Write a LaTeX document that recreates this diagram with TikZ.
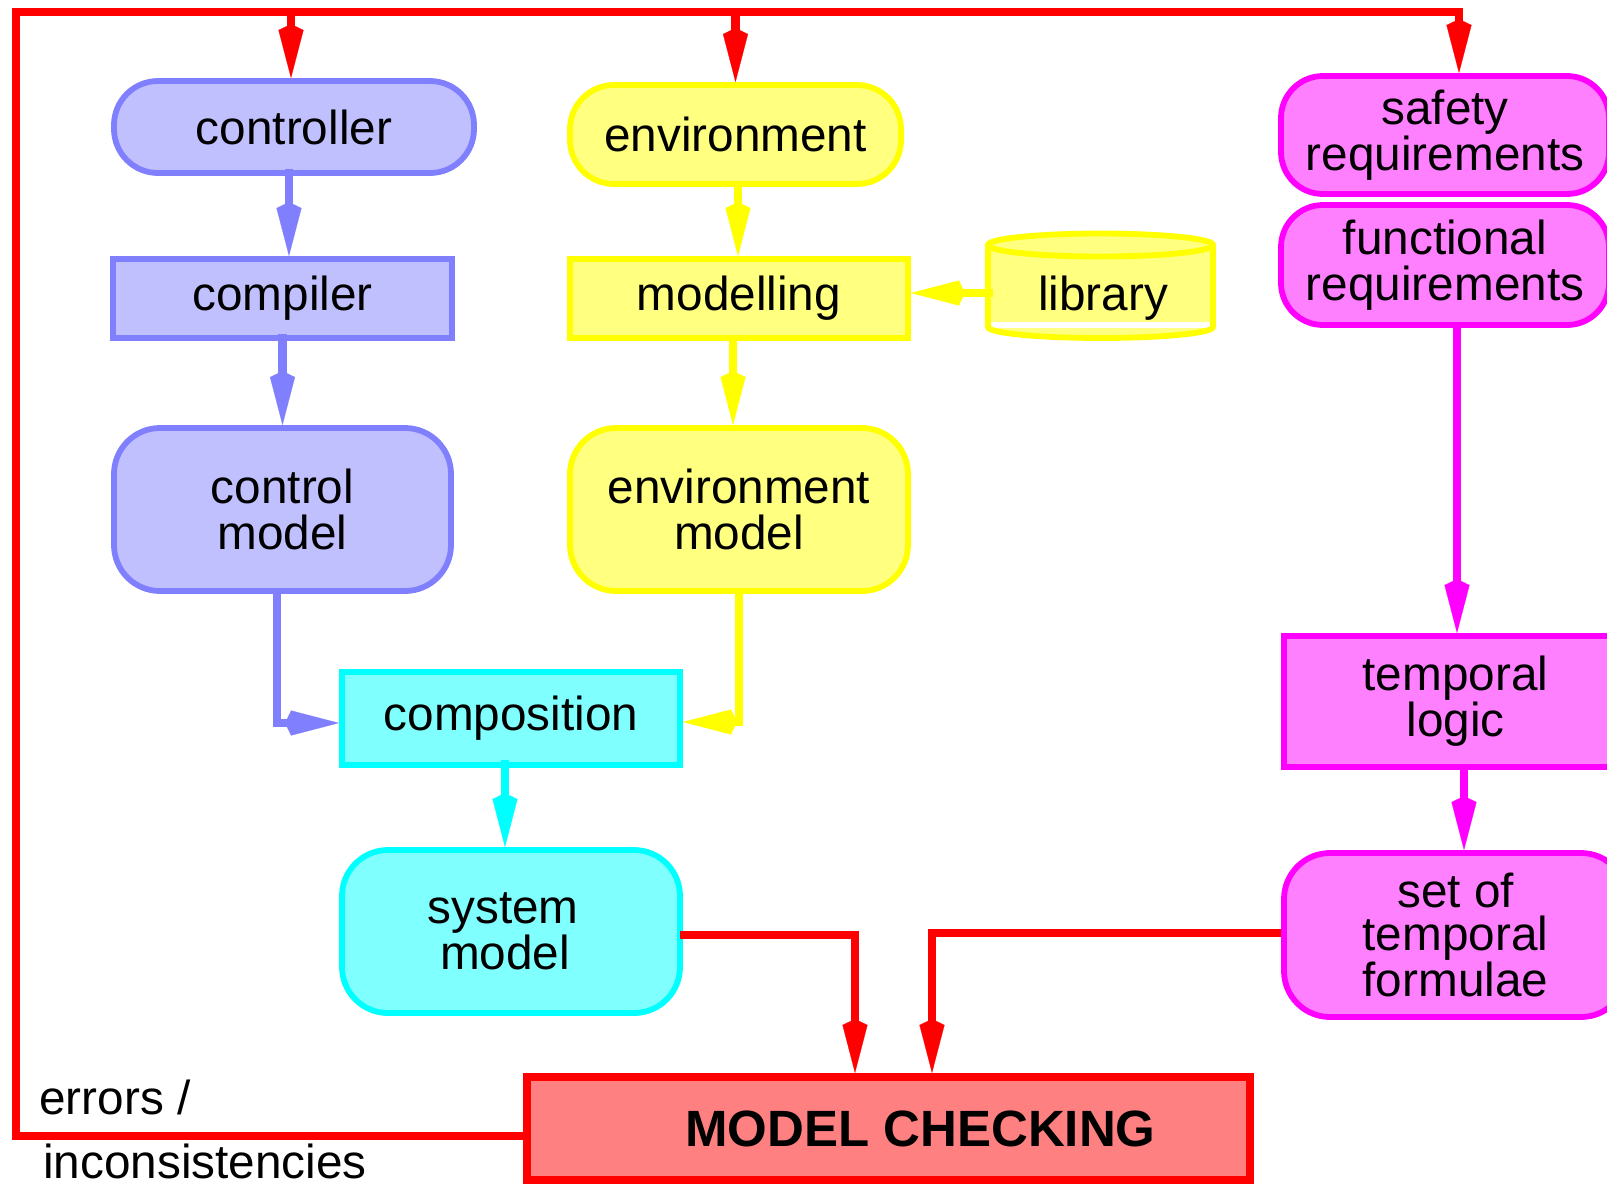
\documentclass[tikz,border=0pt]{standalone}
\usepackage{fontspec}
\setmainfont{Liberation Sans}
\usetikzlibrary{arrows.meta,calc}

\definecolor{bluebd}{HTML}{8080FF}
\definecolor{bluefl}{HTML}{C0C0FF}
\definecolor{yelbd}{HTML}{FFFF00}
\definecolor{yelfl}{HTML}{FFFF80}
\definecolor{cyanbd}{HTML}{00FFFF}
\definecolor{cyanfl}{HTML}{80FFFF}
\definecolor{magbd}{HTML}{FF00FF}
\definecolor{magfl}{HTML}{FF80FF}
\definecolor{redbd}{HTML}{FF0000}
\definecolor{redfl}{HTML}{FF8080}

\begin{document}
\begin{tikzpicture}[x=0.5pt,y=-0.5pt,
  txt/.style={font=\fontsize{23.85pt}{23pt}\selectfont, align=center, inner sep=0pt},
  box/.style={txt, draw, line width=2.9pt, rectangle},
  rbox/.style={box, rounded corners=#1},
  blueN/.style={draw=bluebd, fill=bluefl},
  yelN/.style={draw=yelbd, fill=yelfl},
  cyanN/.style={draw=cyanbd, fill=cyanfl},
  magN/.style={draw=magbd, fill=magfl},
  arr/.style={line width=4.2pt, line join=miter,
    -{Kite[length=27pt,width=12.5pt,inset=3pt,line width=0.1pt]}},
  barr/.style={arr, color=bluebd},
  yarr/.style={arr, color=yelbd},
  carr/.style={arr, color=cyanbd},
  marr/.style={arr, color=magbd},
  rarr/.style={arr, color=redbd},
]
\useasboundingbox (0,0) rectangle (1607,1184);

% controller column
\node[rbox=22pt, blueN, minimum width=180pt, minimum height=46pt] (ctrl) at (294,127) {controller};
\node[box, blueN, minimum width=169.5pt, minimum height=39.5pt] (cmp) at (282.5,298.5) {compiler};
\node[rbox=23pt, blueN, minimum width=168.5pt, minimum height=81.5pt] (cm) at (282.5,509.5) {control\\model};

% environment column
\node[rbox=22pt, yelN, minimum width=165.5pt, minimum height=49.5pt] (env) at (735.5,134.5) {environment};
\node[box, yelN, minimum width=169pt, minimum height=39.5pt] (mod) at (739,298.5) {modelling};
\node[rbox=23pt, yelN, minimum width=169pt, minimum height=81.5pt] (em) at (739,509.5) {environment\\model};

% library cylinder
\fill[yelfl] (988,245) -- (988,327) arc[start angle=180,end angle=360,x radius=56.25pt,y radius=5.5pt] -- (1213,245) -- cycle;
\fill[white] (990,322) rectangle (1211,328);
\draw[yelbd, line width=2.9pt] (988,245) -- (988,327) arc[start angle=180,end angle=360,x radius=56.25pt,y radius=5.5pt] -- (1213,245);
\draw[yelbd, fill=yelfl, line width=2.9pt] (1100.5,245) ellipse[x radius=56.25pt, y radius=5.75pt];
\node[txt] (lib) at (1103,298) {library};
\coordinate (libL) at (993,293);

% composition and system model
\node[box, cyanN, minimum width=169pt, minimum height=46.5pt] (compo) at (511,718.5) {composition};
\node[rbox=23pt, cyanN, minimum width=169pt, minimum height=81.5pt] (sys) at (511,931.5) {\hspace*{-8pt}system\\\hspace*{-6pt}model};

% requirements column
\node[rbox=21pt, magN, minimum width=164pt, minimum height=59pt] (safe) at (1445,135) {safety\\requirements};
\node[rbox=21pt, magN, minimum width=164pt, minimum height=60pt] (func) at (1445,265) {functional\\requirements};
\node[box, magN, minimum width=171.5pt, minimum height=65.5pt] (tlog) at (1455.5,701.5) {temporal\\logic};
\node[rbox=23pt, magN, minimum width=171.5pt, minimum height=82pt,
      font=\fontsize{23.85pt}{21.5pt}\selectfont] (form) at (1455.5,935) {set of\\temporal\\formulae};

% model checking
\node[box, draw=redbd, fill=redfl, line width=4pt, minimum width=361.5pt, minimum height=51.5pt,
      font=\bfseries\fontsize{25.5pt}{26pt}\selectfont] (mc) at (888.5,1128.5) {\hspace*{32pt}MODEL CHECKING};

% feedback label
\node[txt, anchor=base west] (err1) at (39,1114) {errors /};
\node[txt, anchor=base west] (err2) at (43,1178) {inconsistencies};

% blue flow
\draw[barr] ([xshift=-2.5pt,yshift=3.5pt]ctrl.south) -- ([xshift=-2.5pt]ctrl.south |- cmp.north);
\draw[barr] ([yshift=3.5pt]cmp.south) -- (cmp.south |- cm.north);
\draw[barr] ([xshift=-2.75pt,yshift=2pt]cm.south) |- ([yshift=-2.25pt]compo.west);

% yellow flow
\draw[yarr] ([xshift=1.25pt,yshift=3pt]env.south) -- ([xshift=1.25pt]env.south |- mod.north);
\draw[yarr] ([xshift=-3pt,yshift=3pt]mod.south) -- ([xshift=-3pt]mod.south |- em.north);
\draw[yarr] ([yshift=2pt]em.south) |- ([yshift=-1.75pt]compo.east);
\draw[yarr] (libL) -- (libL -| mod.east);

% cyan flow
\draw[carr] ([xshift=-3pt,yshift=4pt]compo.south) -- ([xshift=-3pt]compo.south |- sys.north);

% magenta flow
\draw[marr] ([xshift=6pt]func.south) -- ([xshift=6pt]func.south |- tlog.north);
\draw[marr] ([xshift=4.25pt,yshift=3pt]tlog.south) -- ([xshift=4.25pt]tlog.south |- form.north);

% into model checking
\draw[rarr] ([yshift=-1.75pt,xshift=-1.5pt]sys.east) -| ([xshift=-16.75pt]mc.north);
\draw[rarr] ([yshift=1pt]form.west) -| ([xshift=21.75pt]mc.north);

% feedback loop
\coordinate (fbl) at (16,1136);
\coordinate (ftl) at (16,12);
\coordinate (ftr) at (1459,12);
\draw[rarr] ([yshift=-3.75pt,xshift=1pt]mc.west) -- (fbl) -- (ftl) -- (ftr) -- (ftr |- safe.north);
\draw[rarr] ([xshift=-1.5pt]ctrl.north |- ftl) -- ([xshift=-1.5pt]ctrl.north);
\draw[rarr] (env.north |- ftl) -- (env.north);
\end{tikzpicture}
\end{document}
